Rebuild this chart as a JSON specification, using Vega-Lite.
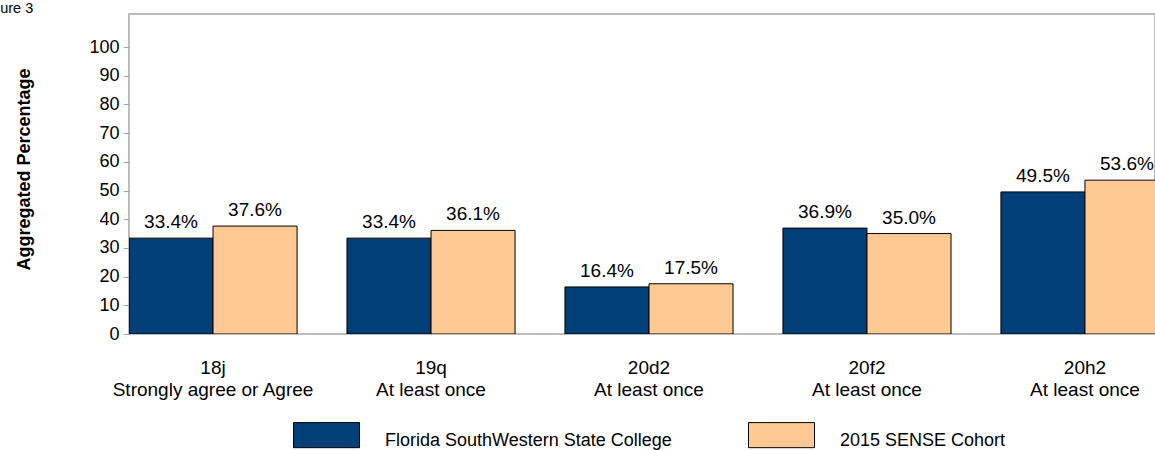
{
  "$schema": "https://vega.github.io/schema/vega-lite/v6.json",
  "autosize": {"type": "none"},
  "padding": {"left": 129, "top": 14, "right": 0, "bottom": 116},
  "width": 1026,
  "height": 320,
  "title": {
    "text": "Figure 3",
    "anchor": "start",
    "frame": "group",
    "dx": -149,
    "dy": 13,
    "offset": 0,
    "baseline": "alphabetic",
    "font": "Liberation Sans",
    "fontSize": 14.5,
    "fontWeight": "normal",
    "color": "#000000"
  },
  "config": {
    "view": {"stroke": "#a6a6a6", "strokeWidth": 1.5},
    "font": "Liberation Sans"
  },
  "data": {
    "values": [
      {"item": "18j|Strongly agree or Agree", "group": "Florida SouthWestern State College", "value": 33.4},
      {"item": "18j|Strongly agree or Agree", "group": "2015 SENSE Cohort", "value": 37.6},
      {"item": "19q|At least once", "group": "Florida SouthWestern State College", "value": 33.4},
      {"item": "19q|At least once", "group": "2015 SENSE Cohort", "value": 36.1},
      {"item": "20d2|At least once", "group": "Florida SouthWestern State College", "value": 16.4},
      {"item": "20d2|At least once", "group": "2015 SENSE Cohort", "value": 17.5},
      {"item": "20f2|At least once", "group": "Florida SouthWestern State College", "value": 36.9},
      {"item": "20f2|At least once", "group": "2015 SENSE Cohort", "value": 35.0},
      {"item": "20h2|At least once", "group": "Florida SouthWestern State College", "value": 49.5},
      {"item": "20h2|At least once", "group": "2015 SENSE Cohort", "value": 53.6}
    ]
  },
  "encoding": {
    "x": {
      "field": "item",
      "type": "nominal",
      "sort": null,
      "scale": {"range": [0, 1040], "paddingInner": 0.229, "paddingOuter": 0},
      "axis": {
        "title": null,
        "domain": false,
        "ticks": false,
        "labelAngle": 0,
        "labelExpr": "split(datum.label, '|')",
        "labelFont": "Liberation Sans",
        "labelFontSize": 19,
        "labelColor": "#000000",
        "labelLineHeight": 22,
        "labelPadding": 39,
        "labelLimit": 400,
        "labelBaseline": "alphabetic"
      }
    },
    "xOffset": {
      "field": "group",
      "type": "nominal",
      "sort": ["Florida SouthWestern State College", "2015 SENSE Cohort"],
      "scale": {"paddingInner": 0, "paddingOuter": 0}
    },
    "y": {
      "field": "value",
      "type": "quantitative",
      "scale": {"domain": [0, 111.5], "nice": false},
      "axis": {
        "title": "Aggregated Percentage",
        "titleFont": "Liberation Sans",
        "titleFontSize": 18,
        "titleFontWeight": "bold",
        "titleColor": "#000000",
        "titleX": -96,
        "titleY": 155,
        "values": [0, 10, 20, 30, 40, 50, 60, 70, 80, 90, 100],
        "domain": false,
        "grid": false,
        "tickColor": "#a6a6a6",
        "tickSize": 6,
        "labelPadding": 4,
        "labelFont": "Liberation Sans",
        "labelFontSize": 18,
        "labelColor": "#000000"
      }
    }
  },
  "layer": [
    {
      "mark": {"type": "bar", "stroke": "#000000", "strokeWidth": 1, "clip": true},
      "encoding": {
        "color": {
          "field": "group",
          "type": "nominal",
          "sort": ["Florida SouthWestern State College", "2015 SENSE Cohort"],
          "scale": {"domain": ["Florida SouthWestern State College", "2015 SENSE Cohort"], "range": ["#003f77", "#ffc994"]},
          "legend": {
            "title": null,
            "orient": "none",
            "legendX": 164,
            "legendY": 393,
            "direction": "horizontal",
            "symbolType": "M-1,-0.55H1V0.21H-1Z",
            "symbolSize": 4356,
            "symbolStrokeColor": "#000000",
            "symbolStrokeWidth": 1,
            "labelFont": "Liberation Sans",
            "labelFontSize": 18,
            "labelColor": "#000000",
            "labelOffset": 25,
            "columnPadding": 74,
            "labelLimit": 400
          }
        }
      }
    },
    {
      "transform": [{"calculate": "format(datum.value, '.1f') + '%'", "as": "label"}],
      "mark": {"type": "text", "dy": -10, "baseline": "alphabetic", "font": "Liberation Sans", "fontSize": 19, "color": "#000000"},
      "encoding": {
        "text": {"field": "label", "type": "nominal"}
      }
    }
  ]
}
